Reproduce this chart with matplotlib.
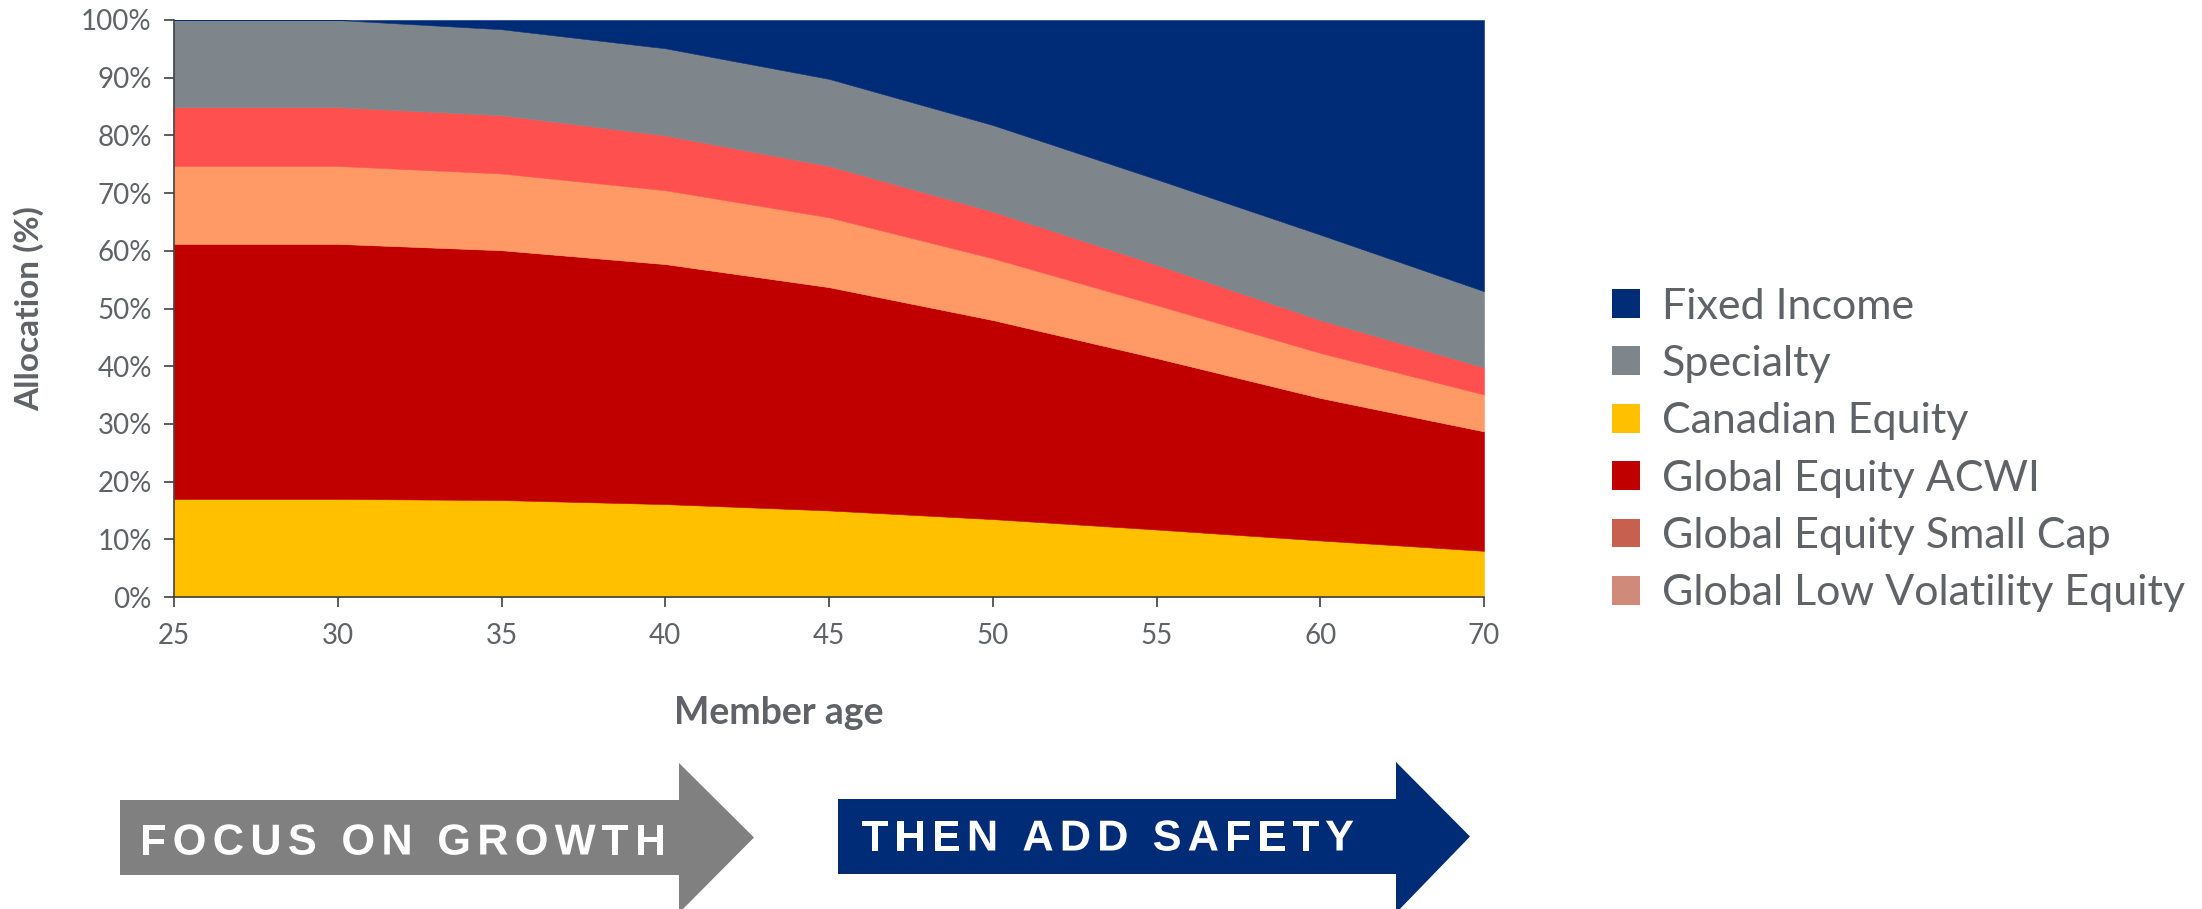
import matplotlib.pyplot as plt
import numpy as np
from matplotlib.patches import Patch, Polygon, PathPatch
from matplotlib.textpath import TextPath, TextToPath
from matplotlib.font_manager import FontProperties
from matplotlib.transforms import Affine2D

plt.rcParams['font.family'] = ['Lato', 'DejaVu Sans']

# allocation by member age (percent of portfolio)
ages = [25, 30, 35, 40, 45, 50, 55, 60, 70]
canadian_equity = [17.0, 17.0, 16.8, 16.1, 15.0, 13.5, 11.7, 9.8, 8.0]
global_acwi = [44.2, 44.2, 43.3, 41.6, 38.7, 34.5, 29.7, 24.7, 20.7]
global_low_vol = [13.5, 13.5, 13.3, 12.8, 12.1, 10.7, 9.2, 7.8, 6.4]
global_small_cap = [10.2, 10.2, 10.1, 9.5, 8.9, 8.1, 7.0, 5.7, 4.7]
specialty = [15.1, 15.1, 14.9, 15.1, 15.1, 15.0, 14.8, 14.8, 13.2]
fixed_income = [0.0, 0.0, 1.6, 4.9, 10.2, 18.2, 27.6, 37.2, 47.0]

legend_labels = ['Fixed Income', 'Specialty', 'Canadian Equity', 'Global Equity ACWI',
                 'Global Equity Small Cap', 'Global Low Volatility Equity']
legend_colors = ['#002B77', '#7E858B', '#FFC000', '#C00000', '#C86050', '#CF8A7A']

GREY = '#5F6368'
W, H = 2202, 909
fig = plt.figure(figsize=(W / 100, H / 100), dpi=100)

ax = fig.add_axes([174 / W, 1 - 597 / H, (1484 - 174) / W, (597 - 20) / H])
x = np.arange(len(ages))
ax.stackplot(x, canadian_equity, global_acwi, global_low_vol, global_small_cap,
             specialty, fixed_income,
             colors=['#FFC000', '#C00000', '#FF9966', '#FF5050', '#7E858B', '#002B77'],
             linewidth=0.4, edgecolor='face')
ax.set_xlim(0, len(ages) - 1)
ax.set_ylim(0, 100)
ax.set_xticks(x)
ax.set_xticklabels([str(a) for a in ages])
ax.set_yticks(np.arange(0, 101, 10))
ax.set_yticklabels([f'{v}%' for v in range(0, 101, 10)])
ax.tick_params(axis='both', colors='#404040', labelcolor=GREY, labelsize=20, length=7, width=1.2)
ax.tick_params(axis='x', pad=12)
ax.tick_params(axis='y', pad=9)
for s in ['top', 'right']:
    ax.spines[s].set_visible(False)
for s in ['left', 'bottom']:
    ax.spines[s].set_color('#404040')
    ax.spines[s].set_linewidth(1.2)
ax.set_ylabel('Allocation (%)', fontsize=24, fontweight='bold', color=GREY, va='center')
ax.yaxis.set_label_coords((29 - 174) / (1484 - 174), 0.5)
fig.text(779 / W, 1 - 713 / H, 'Member age', fontsize=27, fontweight='bold',
         color=GREY, ha='center', va='center')

handles = [Patch(facecolor=c, edgecolor='none') for c in legend_colors]
fig.legend(handles, legend_labels, loc='center left', bbox_to_anchor=(1612 / W, 1 - 450 / H),
           frameon=False, fontsize=31, labelcolor=GREY, handlelength=0.65, handleheight=0.65,
           handletextpad=0.5, labelspacing=0.45, borderpad=0, borderaxespad=0)

# arrows underneath, in figure pixel coordinates
ov = fig.add_axes([0, 0, 1, 1])
ov.set_xlim(0, W)
ov.set_ylim(H, 0)
ov.axis('off')


def arrow(x0, x1, tip, top, bottom, head_top, head_bottom, color):
    yc = (top + bottom) / 2
    pts = [(x0, top), (x1, top), (x1, head_top), (tip, yc), (x1, head_bottom),
           (x1, bottom), (x0, bottom)]
    ov.add_patch(Polygon(pts, closed=True, facecolor=color, edgecolor='none'))


def spaced_text(s, x0, x1, yc, cap=31, xs=1.0):
    fp = FontProperties(family='Liberation Sans', weight='bold')
    size = cap / 0.716
    t2p = TextToPath()
    fp.set_size(size)
    advs = [t2p.get_text_width_height_descent(ch, fp, ismath=False)[0] * xs for ch in s]
    track = (x1 - x0 - sum(advs)) / (len(s) - 1)
    xc = x0
    for ch, a in zip(s, advs):
        if ch != ' ':
            tp = TextPath((0, 0), ch, size=size, prop=fp)
            tr = Affine2D().scale(xs, -1).translate(xc, yc + cap / 2) + ov.transData
            ov.add_patch(PathPatch(tp, transform=tr, facecolor='white', edgecolor='none'))
        xc += a + track


arrow(120, 679, 754, 800, 875, 763, 913, '#808080')
arrow(838, 1396, 1470, 799, 874, 762, 913, '#002B77')
spaced_text('FOCUS ON GROWTH', 140, 666, 839)
spaced_text('THEN ADD SAFETY', 862, 1354, 835)

fig.savefig('out.png', dpi=100)
